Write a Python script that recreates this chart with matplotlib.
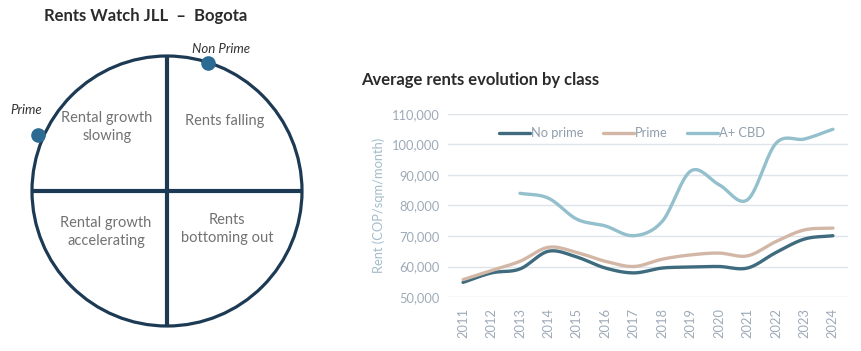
import numpy as np
import matplotlib
matplotlib.use("Agg")
import matplotlib.pyplot as plt
from matplotlib.patches import Circle

plt.rcParams['font.family'] = ['Lato', 'DejaVu Sans']

# ---------------- data ----------------
years = [2011, 2012, 2013, 2014, 2015, 2016, 2017, 2018, 2019, 2020, 2021, 2022, 2023, 2024]
no_prime = [54800, 57900, 59200, 65000, 63100, 59500, 57900, 59500, 59800, 60000, 59500, 64600, 69000, 70100]
prime = [55700, 58700, 61700, 66300, 64600, 61700, 60000, 62400, 63800, 64400, 63500, 68200, 72000, 72600]
cbd_years = [2013, 2014, 2015, 2016, 2017, 2018, 2019, 2020, 2021, 2022, 2023, 2024]
cbd = [84000, 82400, 75500, 73300, 70100, 74800, 91300, 86800, 81900, 100400, 101800, 105000]
series_names = ["No prime", "Prime", "A+ CBD"]
yticks = [50000, 60000, 70000, 80000, 90000, 100000, 110000]
quadrant_labels = ["Rental growth\nslowing", "Rents falling", "Rental growth\naccelerating", "Rents\nbottoming out"]
clock_points = ["Prime", "Non Prime"]

W, H = 862, 351
fig = plt.figure(figsize=(W / 100, H / 100), dpi=100)


def smooth(x, y, n=20):
    """Catmull-Rom style smoothing for drawing (like Excel smoothed lines)."""
    x = np.asarray(x, float)
    y = np.asarray(y, float)
    px = np.concatenate([[2 * x[0] - x[1]], x, [2 * x[-1] - x[-2]]])
    py = np.concatenate([[2 * y[0] - y[1]], y, [2 * y[-1] - y[-2]]])
    xs, ys = [], []
    t = np.linspace(0, 1, n, endpoint=False)
    for i in range(1, len(px) - 2):
        for arr, a in ((ys, py), (xs, px)):
            a0, a1, a2, a3 = a[i - 1], a[i], a[i + 1], a[i + 2]
            arr.extend(0.5 * ((2 * a1) + (-a0 + a2) * t + (2 * a0 - 5 * a1 + 4 * a2 - a3) * t ** 2
                              + (-a0 + 3 * a1 - 3 * a2 + a3) * t ** 3))
    xs.append(x[-1])
    ys.append(y[-1])
    return np.array(xs), np.array(ys)


# ---------------- left panel: rent clock ----------------
axL = fig.add_axes([0, 0, 345 / W, 1])
axL.set_xlim(0, 345)
axL.set_ylim(H, 0)
axL.set_aspect('equal')
axL.axis('off')

navy = '#1d3a54'
cx, cy, r = 167, 191, 135
axL.add_patch(Circle((cx, cy), r, fill=False, ec=navy, lw=2.3))
axL.plot([cx, cx], [cy - r, cy + r], color=navy, lw=3.0, solid_capstyle='butt')
axL.plot([cx - r, cx + r], [cy, cy], color=navy, lw=3.0, solid_capstyle='butt')

qcol = '#727272'
axL.text(107, 127, quadrant_labels[0], ha='center', va='center', fontsize=10.5, color=qcol, linespacing=1.3)
axL.text(225, 121, quadrant_labels[1], ha='center', va='center', fontsize=10.5, color=qcol)
axL.text(106, 232, quadrant_labels[2], ha='center', va='center', fontsize=10.5, color=qcol, linespacing=1.3)
axL.text(227, 229, quadrant_labels[3], ha='center', va='center', fontsize=10.5, color=qcol, linespacing=1.3)

dot = '#2b6a92'
axL.plot([38], [135], 'o', ms=9.5, color=dot)
axL.plot([208], [63], 'o', ms=9.5, color=dot)
axL.text(26, 110, clock_points[0], ha='center', va='center', fontsize=9.5, style='italic', color='#333333')
axL.text(221, 49, clock_points[1], ha='center', va='center', fontsize=9.5, style='italic', color='#333333')

axL.text(146, 16, "Rents Watch JLL  \u2013  Bogota", ha='center', va='center', fontsize=12,
         fontweight='bold', color='#2b2b2b')

# ---------------- right panel: line chart ----------------
fig.text(361 / W, 1 - 80 / H, "Average rents evolution by class", ha='left', va='center',
         fontsize=12, fontweight='bold', color='#2b2b2b')

ax = fig.add_axes([448 / W, 54 / H, 400 / W, 183 / H])
ax.set_xlim(years[0] - 0.53, years[-1] + 0.53)
ax.set_ylim(50000, 110000)
for s in ax.spines.values():
    s.set_visible(False)
ax.set_yticks(yticks)
ax.set_yticklabels([f"{v:,}" for v in yticks])
ax.set_xticks(years)
ax.set_xticklabels([str(y) for y in years], rotation=90)
ax.tick_params(axis='both', length=0, labelsize=9.3, colors='#9eaab8')
ax.tick_params(axis='y', pad=6)
ax.tick_params(axis='x', pad=8)
ax.grid(axis='y', color='#dfe4ea', lw=1)
ax.set_axisbelow(True)
ax.set_ylabel("Rent (COP/sqm/month)", fontsize=9.3, color='#a3bccb', labelpad=5)

colors = ['#3e6b7e', '#d3b7a6', '#93c0cc']
for xs_, ys_, c, name in ((years, no_prime, colors[0], series_names[0]),
                          (years, prime, colors[1], series_names[1]),
                          (cbd_years, cbd, colors[2], series_names[2])):
    sx, sy = smooth(xs_, ys_)
    ax.plot(sx, sy, color=c, lw=2.4, label=name, solid_capstyle='round')

leg = ax.legend(loc='upper center', bbox_to_anchor=(0.46, 0.99), ncol=3, frameon=False,
                fontsize=9.3, handlelength=2.4, handletextpad=0.1, columnspacing=1.5,
                labelcolor='#909eae')

fig.savefig('out.png', dpi=100)
